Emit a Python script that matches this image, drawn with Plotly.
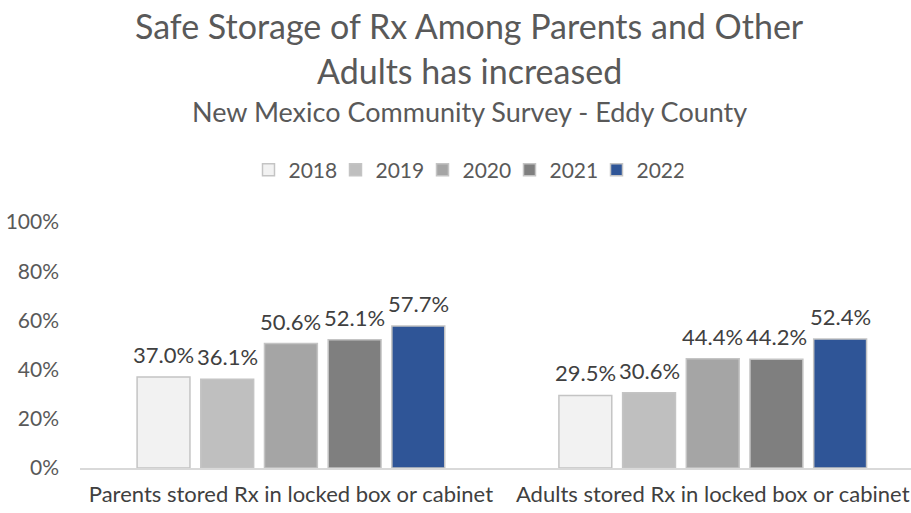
import plotly.graph_objects as go

# Survey categories and yearly percentages
categories = [
    "Parents stored Rx in locked box or cabinet",
    "Adults stored Rx in locked box or cabinet",
]
years = ["2018", "2019", "2020", "2021", "2022"]
values = {
    "2018": [37.0, 29.5],
    "2019": [36.1, 30.6],
    "2020": [50.6, 44.4],
    "2021": [52.1, 44.2],
    "2022": [57.7, 52.4],
}
colors = {
    "2018": "#F2F2F2",
    "2019": "#BFBFBF",
    "2020": "#A5A5A5",
    "2021": "#7F7F7F",
    "2022": "#2F5597",
}
y_ticks = [0, 20, 40, 60, 80, 100]
y_tick_labels = ["0%", "20%", "40%", "60%", "80%", "100%"]

FONT = "Lato, Calibri, Carlito, sans-serif"
BARGAP = 0.245
GROUPGAP = 0.17

positions = list(range(len(categories)))
n = len(years)
slot = (1 - BARGAP) / n

fig = go.Figure()
annotations = []
for k, yr in enumerate(years):
    fig.add_trace(go.Bar(
        name=yr,
        x=positions,
        y=values[yr],
        marker=dict(color=colors[yr], line=dict(color="#C4C4C4", width=1.5)),
        hovertemplate="%{y:.1f}%<extra>" + yr + "</extra>",
    ))
    # value labels sitting above each bar
    for i, v in zip(positions, values[yr]):
        annotations.append(dict(
            x=i - (1 - BARGAP) / 2 + slot * (k + 0.5), y=v,
            xref="x", yref="y", text=f"{v:.1f}%", showarrow=False,
            xanchor="center", yanchor="bottom", yshift=7,
            font=dict(family=FONT, size=22, color="#404040"),
        ))

W, H = 911, 513
L, R, T, B = 80, 0, 222, 45
pw = W - L - R
ph = H - T - B

def px_x(x):
    return (x - L) / pw

def px_y(y):
    return (H - B - y) / ph

def header(text, ypx, size):
    return dict(text=text, x=px_x(469), y=px_y(ypx), xref="paper", yref="paper",
                showarrow=False, xanchor="center", yanchor="middle",
                font=dict(family=FONT, size=size, color="#595959"))

annotations += [
    header("Safe Storage of Rx Among Parents and Other", 25, 34),
    header("Adults has increased", 70, 34),
    header("New Mexico Community Survey - Eddy County", 112, 27),
]

fig.update_layout(
    width=W,
    height=H,
    margin=dict(l=L, r=R, t=T, b=B),
    paper_bgcolor="white",
    plot_bgcolor="white",
    barmode="group",
    bargap=BARGAP,
    bargroupgap=GROUPGAP,
    font=dict(family=FONT, color="#595959"),
    showlegend=True,
    legend=dict(
        orientation="h",
        x=px_x(466), xanchor="center",
        y=px_y(170), yanchor="middle",
        font=dict(family=FONT, size=21, color="#595959"),
        itemwidth=30,
        entrywidth=42,
        entrywidthmode="pixels",
        traceorder="normal",
    ),
    xaxis=dict(
        range=[-0.5, 1.47],
        tickvals=positions,
        ticktext=categories,
        showline=True,
        linecolor="#D9D9D9",
        linewidth=1.5,
        ticks="",
        zeroline=False,
        tickfont=dict(family=FONT, size=22, color="#404040"),
        ticklabelstandoff=6,
        showgrid=False,
    ),
    yaxis=dict(
        range=[0, 100],
        tickvals=y_ticks,
        ticktext=y_tick_labels,
        showgrid=False,
        zeroline=False,
        tickfont=dict(family=FONT, size=21, color="#595959"),
        ticklabelstandoff=20,
    ),
    annotations=annotations,
)

fig.write_html("out.html")
